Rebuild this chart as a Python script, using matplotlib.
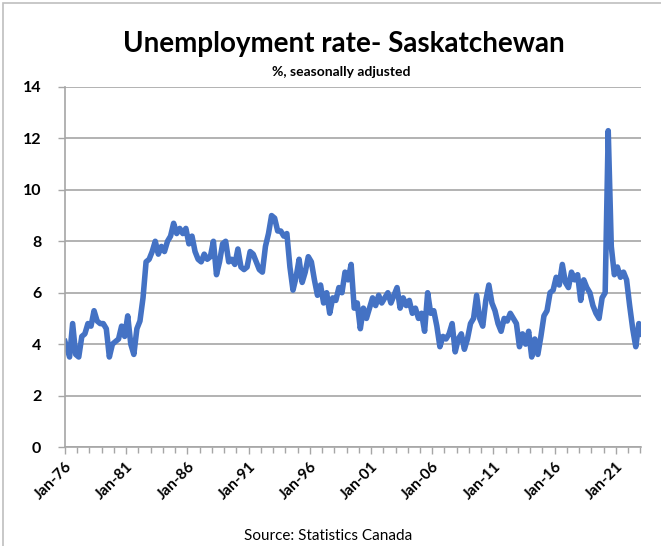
import numpy as np
import matplotlib
matplotlib.use("Agg")
import matplotlib.pyplot as plt
from matplotlib.patches import Rectangle
from matplotlib.ticker import MultipleLocator

plt.rcParams['font.family'] = ['Lato', 'DejaVu Sans']

# Saskatchewan unemployment rate, quarterly readings, 1976Q1 .. 2023Q1
start_year = 1976
rate = [
    4.1, 3.5, 4.8, 3.6,   # 1976
    3.5, 4.3, 4.4, 4.8,   # 1977
    4.7, 5.3, 4.9, 4.8,   # 1978
    4.8, 4.6, 3.5, 4.0,   # 1979
    4.1, 4.2, 4.7, 4.3,   # 1980
    5.1, 4.0, 3.6, 4.6,   # 1981
    4.9, 5.8, 7.2, 7.3,   # 1982
    7.6, 8.0, 7.5, 7.8,   # 1983
    7.6, 8.0, 8.2, 8.7,   # 1984
    8.3, 8.5, 8.3, 8.5,   # 1985
    7.9, 8.2, 7.6, 7.3,   # 1986
    7.2, 7.5, 7.3, 7.4,   # 1987
    8.0, 6.7, 7.2, 7.9,   # 1988
    8.0, 7.2, 7.3, 7.1,   # 1989
    7.7, 7.0, 6.9, 7.0,   # 1990
    7.6, 7.5, 7.2, 6.9,   # 1991
    6.8, 7.8, 8.3, 9.0,   # 1992
    8.9, 8.4, 8.4, 8.2,   # 1993
    8.3, 7.0, 6.1, 6.6,   # 1994
    7.3, 6.4, 6.8, 7.4,   # 1995
    7.2, 6.5, 5.9, 6.3,   # 1996
    5.6, 6.0, 5.2, 5.8,   # 1997
    5.7, 6.2, 6.0, 6.8,   # 1998
    6.5, 7.1, 5.4, 5.6,   # 1999
    4.6, 5.4, 5.0, 5.4,   # 2000
    5.8, 5.5, 5.9, 5.6,   # 2001
    5.8, 6.0, 5.6, 5.9,   # 2002
    6.2, 5.4, 5.8, 5.5,   # 2003
    5.7, 5.2, 5.4, 5.0,   # 2004
    5.2, 4.5, 6.0, 5.2,   # 2005
    5.3, 4.7, 3.9, 4.3,   # 2006
    4.2, 4.4, 4.8, 3.7,   # 2007
    4.2, 4.4, 3.8, 4.2,   # 2008
    4.8, 5.0, 5.9, 5.0,   # 2009
    4.7, 5.7, 6.3, 5.6,   # 2010
    5.3, 4.8, 4.5, 5.0,   # 2011
    4.9, 5.2, 5.0, 4.8,   # 2012
    3.9, 4.4, 4.0, 4.5,   # 2013
    3.5, 4.2, 3.6, 4.3,   # 2014
    5.1, 5.3, 6.0, 6.1,   # 2015
    6.6, 6.3, 7.1, 6.4,   # 2016
    6.2, 6.8, 6.5, 6.7,   # 2017
    5.7, 6.5, 6.2, 6.0,   # 2018
    5.5, 5.2, 5.0, 5.8,   # 2019
    6.0, 12.3, 7.8, 6.7,  # 2020
    7.0, 6.6, 6.8, 6.5,   # 2021
    5.5, 4.6, 3.9, 4.8,   # 2022
    4.4,                  # 2023
]
tick_years = [1976, 1981, 1986, 1991, 1996, 2001, 2006, 2011, 2016, 2021]
tick_labels = ["Jan-76", "Jan-81", "Jan-86", "Jan-91", "Jan-96",
               "Jan-01", "Jan-06", "Jan-11", "Jan-16", "Jan-21"]

x = start_year + 0.125 + np.arange(len(rate)) / 4.0
x[0] = start_year

fig = plt.figure(figsize=(6.61, 5.46), dpi=100)
ax = fig.add_axes([0.0983, 0.1813, 0.9697 - 0.0983, 0.8407 - 0.1813])

# chart frame (Excel chart area border)
fig.patches.append(Rectangle((3 / 661, -0.1), 1.2, 1 - 3 / 546 + 0.1,
                             transform=fig.transFigure, fill=False,
                             edgecolor="#bfbfbf", linewidth=1.2))

ax.plot(x, rate, color="#4472C4", linewidth=4.0, solid_joinstyle="round")

ax.set_xlim(start_year, 2023.05)
ax.set_ylim(0, 14)
ax.yaxis.set_major_locator(MultipleLocator(2))
ax.grid(axis="y", color="#a6a6a6", linewidth=1.2)
ax.set_axisbelow(True)

ax.set_xticks(tick_years)
ax.set_xticklabels(tick_labels, rotation=45, ha="right", rotation_mode="anchor",
                   fontsize=11, fontweight="bold")
ax.set_xticks(np.arange(1976, 2024), minor=True)
ax.tick_params(axis="x", which="major", length=5, width=1, color="#a6a6a6", pad=4)
ax.tick_params(axis="x", which="minor", length=4, width=1, color="#a6a6a6")
ax.tick_params(axis="y", length=5, width=1, color="#a6a6a6", pad=12,
               labelsize=11.5)
for lab in ax.get_yticklabels():
    lab.set_fontweight("bold")

for side in ["top", "right"]:
    ax.spines[side].set_visible(False)
for side in ["left", "bottom"]:
    ax.spines[side].set_color("#a6a6a6")
    ax.spines[side].set_linewidth(1.2)

fig.text(0.52, 0.919, "Unemployment rate- Saskatchewan", ha="center", va="center",
         fontsize=20, fontweight="bold")
fig.text(0.517, 0.868, "%, seasonally adjusted", ha="center", va="center",
         fontsize=10, fontweight="bold")
fig.text(0.496, 0.018, "Source: Statistics Canada", ha="center", va="center",
         fontsize=11)

fig.savefig("out.png", dpi=100)
